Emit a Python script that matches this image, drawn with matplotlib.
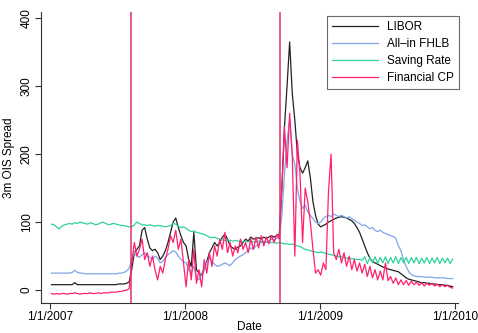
import matplotlib
matplotlib.use('Agg')
import matplotlib.pyplot as plt
import pandas as pd

# weekly observations, first one on 5 Jan 2007
start_date = '2007-01-05'

libor = [8, 8, 8, 8, 8, 8, 8, 8, 8, 11, 8, 8, 8, 8, 8, 8, 8, 8, 8, 8,
         8, 8, 8, 8, 8, 8, 9, 9, 9, 10, 12,
         30, 55, 60, 65, 88, 92, 75, 62, 58, 60, 55, 45, 50, 58, 70, 85, 100, 106, 92,
         80, 70, 65, 45, 35, 85, 30, 25, 22, 30, 42, 55, 62, 70, 65, 70, 78, 82, 75, 65,
         62, 60, 63, 65, 70, 75, 72, 78, 75, 76, 77, 75, 78, 76, 78, 80, 78, 80, 82,
         150, 240, 300, 365, 290, 250, 200, 180, 172, 180, 190, 165, 130, 110, 97,
         93, 95, 97, 100, 102, 104, 106, 107, 108, 107, 106, 104, 102, 98, 92, 85, 75,
         65, 55, 47, 42, 40, 38, 36, 34, 33, 31, 30, 29, 28, 27, 24, 21, 18, 16, 15,
         14, 13, 12, 11, 11, 10, 10, 9, 9, 8, 8, 8, 7, 7, 6, 5]

fhlb = [25, 25, 25, 25, 25, 25, 25, 25, 26, 29, 26, 25, 25, 24, 24, 24, 24, 24, 24, 24,
        24, 24, 24, 24, 24, 24, 25, 25, 26, 28, 32,
        45, 55, 50, 48, 52, 55, 50, 48, 45, 50, 47, 40, 42, 48, 52, 55, 58, 56, 50,
        45, 42, 40, 30, 25, 35, 18, 15, 25, 30, 40, 48, 42, 38, 35, 36, 38, 40, 38, 36,
        40, 45, 48, 50, 52, 55, 58, 62, 60, 65, 68, 70, 72, 70, 73, 75, 74, 76, 78,
        110, 170, 220, 250, 200, 185, 150, 130, 120, 125, 115, 110, 105, 100, 98,
        100, 105, 108, 110, 108, 112, 110, 108, 110, 108, 106, 108, 105, 103, 100, 98, 95,
        96, 93, 90, 92, 88, 86, 88, 85, 83, 82, 80, 79, 76, 65, 58, 45, 35, 27, 23,
        21, 20, 20, 20, 19, 19, 19, 19, 18, 18, 18, 18, 18, 17, 17, 17]

saving = [97, 96, 93, 90, 94, 96, 97, 98, 97, 99, 98, 100, 99, 98, 97, 99, 98, 96, 97, 99,
          100, 98, 96, 97, 98, 97, 96, 95, 95, 94, 93,
          93, 96, 100, 98, 96, 96, 95, 96, 95, 94, 95, 95, 94, 93, 94, 95, 98, 97, 94,
          92, 93, 91, 88, 86, 87, 85, 84, 83, 82, 80, 78, 77, 78, 76, 75, 74, 73, 74, 73,
          72, 73, 72, 72, 71, 72, 71, 72, 71, 71, 72, 71, 70, 71, 70, 70, 70, 69, 70,
          69, 68, 68, 67, 68, 66, 65, 64, 62, 60, 59, 58, 57, 56, 55,
          56, 55, 54, 53, 52, 51, 50, 49, 49, 48, 47, 47, 46, 46, 45, 45, 44,
          49, 39, 48, 40, 49, 39, 48, 40, 49, 39, 48, 40, 49, 39, 48, 40, 48, 39,
          48, 40, 48, 39, 47, 40, 48, 39, 47, 40, 48, 39, 47, 40, 47, 39, 46]

fin_cp = [-5, -6, -5, -6, -5, -5, -6, -5, -5, -4, -5, -6, -5, -5, -5, -4, -5, -5, -4, -5,
          -4, -4, -4, -3, -3, -3, -2, -2, -1, 0, 2,
          40, 70, 50, 60, 75, 45, 55, 35, 50, 30, 15, 35, 25, 45, 60, 80, 70, 88, 60,
          75, 40, 5, 45, 15, 60, 10, 30, 5, 45, 25, 55, 35, 65, 50, 75, 60, 85, 55, 70,
          50, 65, 55, 75, 60, 70, 55, 75, 60, 78, 62, 80, 65, 78, 68, 80, 70, 82, 75,
          150, 240, 180, 260, 200, 50, 220, 170, 70, 150, 130, 100, 60, 25, 30,
          22, 40, 30, 145, 200, 55, 45, 60, 40, 55, 35, 50, 30, 45, 28, 40, 25,
          38, 20, 35, 18, 30, 15, 28, 15, 40, 14, 20, 10, 18, 8, 15, 8, 14, 7,
          13, 8, 12, 7, 11, 6, 10, 7, 10, 6, 9, 5, 8, 5, 7, 4, 3]

series_names = ['LIBOR', 'All\u2013in FHLB', 'Saving Rate', 'Financial CP']
event_dates = ['2007-08-09', '2008-09-15']
tick_dates = ['2007-01-01', '2008-01-01', '2009-01-01', '2010-01-01']
tick_labels = ['1/1/2007', '1/1/2008', '1/1/2009', '1/1/2010']

plt.rcParams['font.family'] = ['Liberation Sans', 'DejaVu Sans']

fig = plt.figure(figsize=(4.78, 3.33), dpi=100)
ax = fig.add_axes([0.086, 0.09, 0.872, 0.874])

colors = ['#222222', '#7ea6e8', '#2fd29c', '#ff2070']
for vals, name, c in zip([libor, fhlb, saving, fin_cp], series_names, colors):
    dates = pd.date_range(start_date, periods=len(vals), freq='7D')
    ax.plot(dates, vals, color=c, lw=0.9, label=name)

for d in event_dates:
    ax.axvline(pd.Timestamp(d), color='#e0306a', lw=1.1)

ax.set_xlim(pd.Timestamp('2006-12-08'), pd.Timestamp('2010-01-08'))
ax.set_ylim(-19, 409)

ax.set_xticks(pd.to_datetime(tick_dates))
ax.set_xticklabels(tick_labels, fontsize=8.5)
ax.set_yticks([0, 100, 200, 300, 400])
ax.set_yticklabels(['0', '100', '200', '300', '400'], fontsize=8.5, rotation=90, va='center')
ax.tick_params(direction='out', length=4, width=0.8, color='#333333', pad=2)
ax.tick_params(axis='x', pad=1.5)

ax.spines['top'].set_visible(False)
ax.spines['right'].set_visible(False)
for s in ['left', 'bottom']:
    ax.spines[s].set_color('#333333')
    ax.spines[s].set_linewidth(0.8)

ax.set_xlabel('Date', fontsize=8.5, labelpad=-1)
ax.set_ylabel('3m OIS Spread', fontsize=8.5, labelpad=4)

leg = ax.legend(loc='upper right', bbox_to_anchor=(0.960, 0.952), bbox_transform=fig.transFigure,
                borderaxespad=0, fontsize=8.5, frameon=True, fancybox=False, handlelength=3.9,
                borderpad=0.45, labelspacing=0.42, handletextpad=0.7)
leg.get_frame().set_edgecolor('#444444')
leg.get_frame().set_linewidth(0.8)

fig.savefig('out.png', dpi=100)
